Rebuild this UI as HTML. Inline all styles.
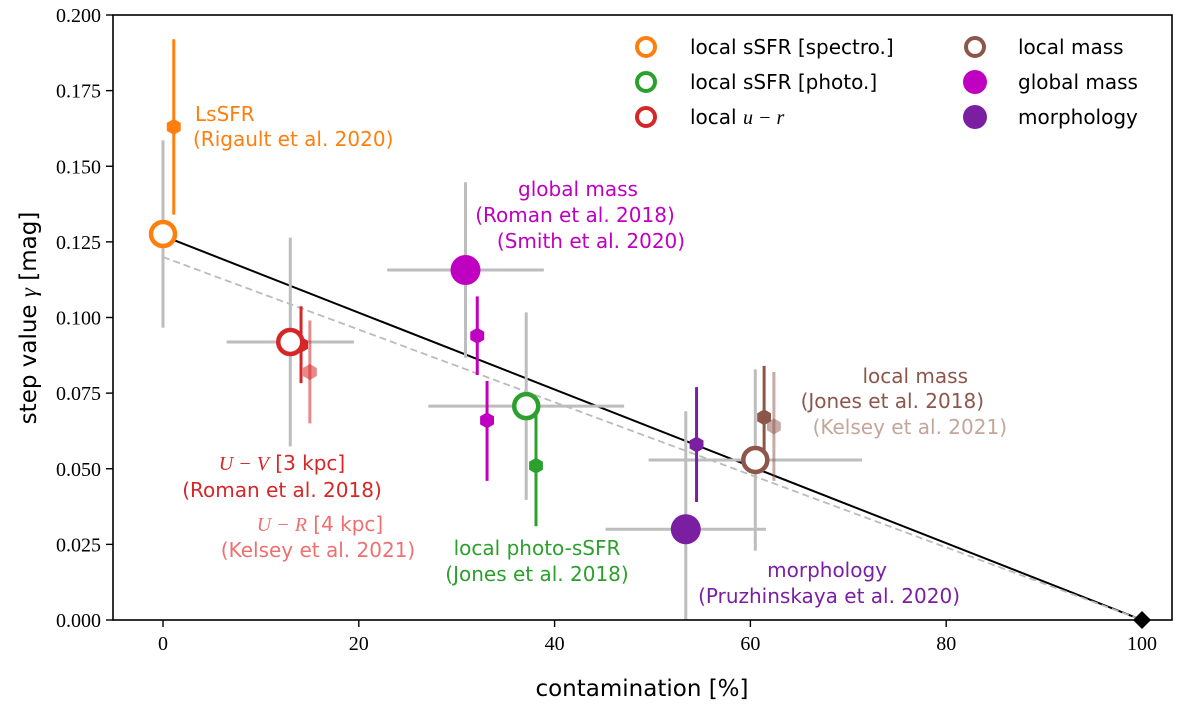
<!DOCTYPE html>
<html><head><meta charset="utf-8"><style>
body{margin:0;background:#fff}
svg text{font-family:"DejaVu Sans","Liberation Sans",sans-serif}
.tick{font-family:"Liberation Serif",serif;font-size:20px}
</style></head><body>
<svg id="chart" width="1200" height="705" viewBox="0 0 1200 705" xmlns="http://www.w3.org/2000/svg">
</svg>
<script>
const bigNames=["local-sSFR-spectro","local-u-r","global-mass","local-sSFR-photo","morphology","local-mass"];
const bigX=[0,13.0,30.9,37.1,53.4,60.5];
const bigY=[0.1276,0.0919,0.1157,0.0707,0.030,0.0529];
const bigXErr=[0,6.5,8,10,8.2,10.9];
const bigYErr=[0.031,0.0345,0.029,0.031,0.039,0.030];
const bigColor=["#ff7f0e","#d62728","#c000c0","#2ca02c","#7b1fa2","#8c564b"];
const bigFilled=[false,false,true,false,true,false];
const smallNames=["rigault-2020","roman-2018-UV","kelsey-2021-UR","roman-2018-mass","smith-2020-mass","jones-2018-photo","pruzhinskaya-2020","jones-2018-mass","kelsey-2021-mass"];
const smallX=[1.1,14.1,15.0,32.1,33.1,38.1,54.5,61.4,62.4];
const smallY=[0.163,0.091,0.082,0.094,0.066,0.051,0.058,0.067,0.064];
const smallYLo=[0.029,0.0127,0.017,0.013,0.02,0.02,0.019,0.016,0.018];
const smallYHi=[0.029,0.0127,0.017,0.013,0.013,0.02,0.019,0.017,0.018];
const smallColor=["#ff7f0e","#d62728","rgba(214,39,40,0.55)","#c000c0","#c000c0","#2ca02c","#7b1fa2","#8c564b","rgba(140,86,75,0.5)"];
const fitSolid=[0.127,0];
const fitDash=[0.120,0];
const xTicks=[0,20,40,60,80,100];
const yTicks=[0,0.025,0.05,0.075,0.1,0.125,0.15,0.175,0.2];
const yTickLabels=["0.000","0.025","0.050","0.075","0.100","0.125","0.150","0.175","0.200"];

const L=113,R=1172,T=15,B=620;
const X=v=>163+(1142-163)*v/100;
const Y=v=>B-(B-T)*v/0.2;
const svg=document.getElementById('chart');
const NS="http://www.w3.org/2000/svg";
function mk(tag,attrs,parent){const e=document.createElementNS(NS,tag);for(const k in attrs)e.setAttribute(k,attrs[k]);(parent||svg).appendChild(e);return e;}
const clip=mk('clipPath',{id:'cp'});mk('rect',{x:L,y:T,width:R-L,height:B-T},clip);
const plot=mk('g',{'clip-path':'url(#cp)'});


let l1=mk('line',{x1:X(0),y1:Y(fitSolid[0]),x2:X(100),y2:Y(fitSolid[1]),stroke:'#000','stroke-width':2},plot);


let l2=mk('line',{x1:X(0),y1:Y(fitDash[0]),x2:X(100),y2:Y(fitDash[1]),stroke:'#bbb','stroke-width':1.8,'stroke-dasharray':'7,4'},plot);


for(let i=0;i<bigX.length;i++){
 const g=mk('g',{},plot);
 
 
 if(bigXErr[i]>0)mk('line',{x1:X(bigX[i]-bigXErr[i]),x2:X(bigX[i]+bigXErr[i]),y1:Y(bigY[i]),y2:Y(bigY[i]),stroke:'#bdbdbd','stroke-width':3},g);
 mk('line',{x1:X(bigX[i]),x2:X(bigX[i]),y1:Y(bigY[i]-bigYErr[i]),y2:Y(bigY[i]+bigYErr[i]),stroke:'#bdbdbd','stroke-width':3},g);
}
function hex(cx,cy,r){let p=[];for(let k=0;k<6;k++){const a=Math.PI/6+k*Math.PI/3;p.push((cx+r*Math.cos(a)).toFixed(1)+','+(cy+r*Math.sin(a)).toFixed(1));}return p.join(' ');}
for(let i=0;i<smallX.length;i++){
 const g=mk('g',{},plot);
 
 
 mk('line',{x1:X(smallX[i]),x2:X(smallX[i]),y1:Y(smallY[i]-smallYLo[i]),y2:Y(smallY[i]+smallYHi[i]),stroke:smallColor[i],'stroke-width':3},g);
 mk('polygon',{points:hex(X(smallX[i]),Y(smallY[i]),8),fill:smallColor[i]},g);
}
for(let i=0;i<bigX.length;i++){
 let c;
 if(bigFilled[i]) c=mk('circle',{cx:X(bigX[i]),cy:Y(bigY[i]),r:15,fill:bigColor[i]},plot);
 else c=mk('circle',{cx:X(bigX[i]),cy:Y(bigY[i]),r:12,fill:'#fff',stroke:bigColor[i],'stroke-width':4.5},plot);
 
 
}
let d=mk('polygon',{points:`${X(100)},${Y(0)-9} ${X(100)+9},${Y(0)} ${X(100)},${Y(0)+9} ${X(100)-9},${Y(0)}`,fill:'#000'});


let fr=mk('rect',{x:L,y:T,width:R-L,height:B-T,fill:'none',stroke:'#000','stroke-width':1.6});


for(let i=0;i<xTicks.length;i++){
 mk('line',{x1:X(xTicks[i]),x2:X(xTicks[i]),y1:B,y2:B+7,stroke:'#000','stroke-width':1.4});
 const t=mk('text',{x:X(xTicks[i]),y:B+30,'text-anchor':'middle',class:'tick'});t.textContent=xTicks[i];
 
 
}
for(let i=0;i<yTicks.length;i++){
 mk('line',{x1:L-7,x2:L,y1:Y(yTicks[i]),y2:Y(yTicks[i]),stroke:'#000','stroke-width':1.4});
 const t=mk('text',{x:L-12,y:Y(yTicks[i])+7,'text-anchor':'end',class:'tick'});t.textContent=yTickLabels[i];
 
 
}
</script>
<svg width="1200" height="705" style="position:absolute;left:0;top:0" xmlns="http://www.w3.org/2000/svg">
<text x="642" y="696" text-anchor="middle" font-size="23">contamination [%]</text>
<text transform="translate(36,318) rotate(-90)" text-anchor="middle" font-size="23">step value <tspan font-family="Liberation Serif" font-style="italic">γ</tspan> [mag]</text>
<g font-size="20">
<text x="195" y="121" fill="#ff7f0e">LsSFR</text>
<text x="193" y="146" fill="#ff7f0e">(Rigault et al. 2020)</text>
<text x="578" y="196" text-anchor="middle" fill="#c000c0">global mass</text>
<text x="575" y="222" text-anchor="middle" fill="#c000c0">(Roman et al. 2018)</text>
<text x="591" y="248" text-anchor="middle" fill="#c000c0">(Smith et al. 2020)</text>
<text x="282" y="470" text-anchor="middle" fill="#d62728"><tspan font-family="Liberation Serif" font-style="italic">U − V</tspan> [3 kpc]</text>
<text x="282" y="497" text-anchor="middle" fill="#d62728">(Roman et al. 2018)</text>
<text x="320" y="531" text-anchor="middle" fill="#ee7070"><tspan font-family="Liberation Serif" font-style="italic">U − R</tspan> [4 kpc]</text>
<text x="318" y="557" text-anchor="middle" fill="#ee7070">(Kelsey et al. 2021)</text>
<text x="537" y="555" text-anchor="middle" fill="#2ca02c">local photo-sSFR</text>
<text x="537" y="581" text-anchor="middle" fill="#2ca02c">(Jones et al. 2018)</text>
<text x="887" y="577" text-anchor="end" fill="#7b1fa2">morphology</text>
<text x="960" y="603" text-anchor="end" fill="#7b1fa2">(Pruzhinskaya et al. 2020)</text>
<text x="968" y="383" text-anchor="end" fill="#8c564b">local mass</text>
<text x="984" y="408" text-anchor="end" fill="#8c564b">(Jones et al. 2018)</text>
<text x="1007" y="434" text-anchor="end" fill="#c4a59c">(Kelsey et al. 2021)</text>
</g>
<g font-size="20">
<g><circle cx="646" cy="47" r="9" fill="#fff" stroke="#ff7f0e" stroke-width="4"/><text x="690" y="54">local sSFR [spectro.]</text></g>
<g><circle cx="646" cy="82" r="9" fill="#fff" stroke="#2ca02c" stroke-width="4"/><text x="690" y="89">local sSFR [photo.]</text></g>
<g><circle cx="646" cy="117" r="9" fill="#fff" stroke="#d62728" stroke-width="4"/><text x="690" y="124">local <tspan font-family="Liberation Serif" font-style="italic">u − r</tspan></text></g>
<g><circle cx="975" cy="47" r="9" fill="#fff" stroke="#8c564b" stroke-width="4"/><text x="1018" y="54">local mass</text></g>
<g><circle cx="975" cy="82" r="12" fill="#c000c0"/><text x="1018" y="89">global mass</text></g>
<g><circle cx="975" cy="117" r="12" fill="#7b1fa2"/><text x="1018" y="124">morphology</text></g>
</g>
</svg>
</body></html>
